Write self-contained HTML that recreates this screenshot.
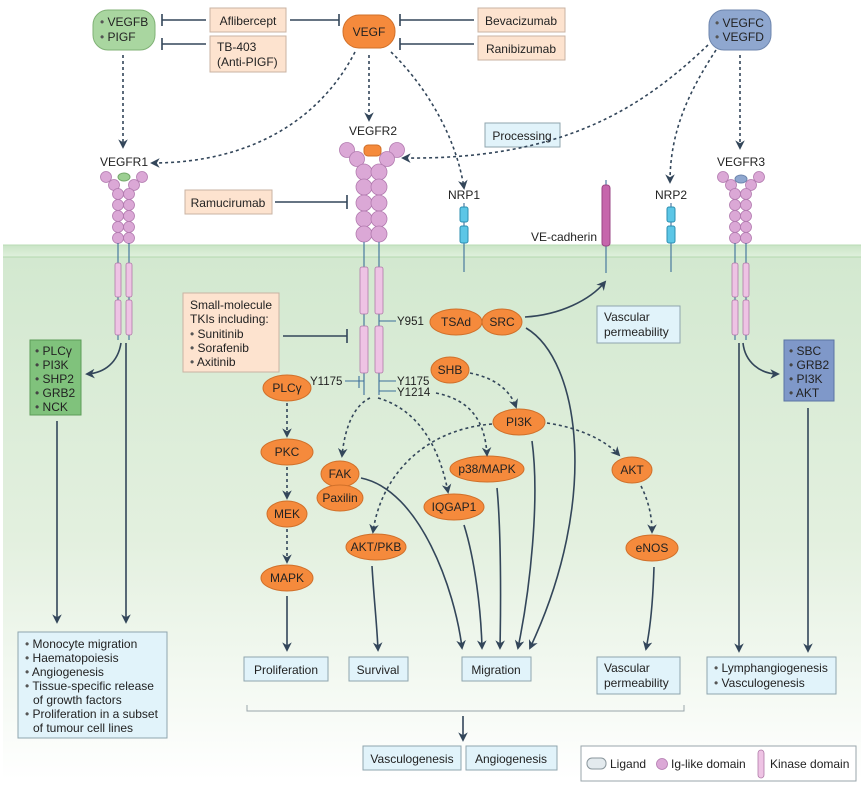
<!DOCTYPE html>
<html><head><meta charset="utf-8"><style>
html,body{margin:0;padding:0;background:#fff}
svg{display:block}
text{font-family:"Liberation Sans",sans-serif;font-size:12px;fill:#222}
.y{font-size:11.5px}
.b{fill:#fde3cf;stroke:#c9b3a3;stroke-width:1}
.lb{fill:#e1f3fa;stroke:#8fa5ae;stroke-width:1}
.o{fill:#f58a3c;stroke:#d0702a;stroke-width:1}
.ig{fill:#dba8d6;stroke:#b27aaf;stroke-width:0.8}
.k{fill:#eec3e4;stroke:#b07aa8;stroke-width:0.8}
.ln{stroke:#33465a;stroke-width:1.6;fill:none}
.d{stroke:#33465a;stroke-width:1.6;fill:none;stroke-dasharray:3 3}
.tm{stroke:#3c6f9a;stroke-width:1.1;fill:none}
</style></head><body>
<svg width="864" height="785" viewBox="0 0 864 785" xmlns="http://www.w3.org/2000/svg">
<defs>
<marker id="a" viewBox="0 0 10 10" refX="8" refY="5" markerWidth="6" markerHeight="6" orient="auto"><path d="M0,0 L10,5 L0,10 L3,5z" fill="#33465a"/></marker>
<linearGradient id="g" x1="0" y1="0" x2="0" y2="1"><stop offset="0" stop-color="#d2e8cf"/><stop offset="0.55" stop-color="#e3f0df"/><stop offset="1" stop-color="#ffffff"/></linearGradient>
<linearGradient id="m" x1="0" y1="0" x2="0" y2="1"><stop offset="0" stop-color="#c9e4c6"/><stop offset="1" stop-color="#e0f0dd"/></linearGradient>
</defs>
<rect x="3" y="245" width="858" height="535" fill="url(#g)"/>
<rect x="3" y="245" width="858" height="12" fill="url(#m)"/>
<line x1="3" y1="257" x2="861" y2="257" stroke="#b3d8ae" stroke-width="1"/>
<line x1="3" y1="245" x2="861" y2="245" stroke="#b9dcb4" stroke-width="1"/>

<rect x="93" y="10" width="62" height="40" rx="15" fill="#a9d6a0" stroke="#80b276"/>
<text x="100" y="26"><tspan fill="#555">•</tspan> VEGFB</text>
<text x="100" y="41"><tspan fill="#555">•</tspan> PIGF</text>
<rect x="343" y="15" width="52" height="33" rx="16" class="o"/>
<text x="369" y="36" text-anchor="middle">VEGF</text>
<rect x="709" y="10" width="62" height="40" rx="15" fill="#8fa7cf" stroke="#6e86ae"/>
<text x="715" y="27"><tspan fill="#555">•</tspan> VEGFC</text>
<text x="715" y="41"><tspan fill="#555">•</tspan> VEGFD</text>

<rect x="210" y="8" width="76" height="24" class="b"/><text x="248" y="25" text-anchor="middle">Aflibercept</text>
<rect x="210" y="36" width="76" height="36" class="b"/><text x="217" y="51">TB-403</text><text x="217" y="66">(Anti-PIGF)</text>
<rect x="478" y="8" width="87" height="24" class="b"/><text x="521" y="25" text-anchor="middle">Bevacizumab</text>
<rect x="478" y="36" width="87" height="24" class="b"/><text x="521" y="53" text-anchor="middle">Ranibizumab</text>
<path class="ln" d="M206,20H162M162,14V26M206,44H162M162,38V50M290,20H339M339,14V26M474,20H400M400,14V26M474,44H400M400,38V50"/>
<rect x="185" y="190" width="87" height="24" class="b"/><text x="228" y="207" text-anchor="middle">Ramucirumab</text>
<path class="ln" d="M275,202H347M347,195V209"/>
<rect x="183" y="293" width="96" height="79" class="b"/>
<text x="190" y="309">Small-molecule</text><text x="190" y="323">TKIs including:</text>
<text x="190" y="338"><tspan fill="#555">•</tspan> Sunitinib</text><text x="190" y="352"><tspan fill="#555">•</tspan> Sorafenib</text><text x="190" y="366"><tspan fill="#555">•</tspan> Axitinib</text>
<path class="ln" d="M283,336H347M347,329V343"/>
<rect x="485" y="123" width="75" height="24" class="lb"/><text x="522" y="140" text-anchor="middle">Processing</text>

<path class="d" marker-end="url(#a)" d="M123,55V147"/>
<path class="d" marker-end="url(#a)" d="M355,52C320,120 250,163 152,163"/>
<path class="d" marker-end="url(#a)" d="M369,55V120"/>
<path class="d" marker-end="url(#a)" d="M391,52C420,80 455,130 464,188"/>
<path class="d" marker-end="url(#a)" d="M708,45C640,110 560,160 403,158"/>
<path class="d" marker-end="url(#a)" d="M716,50C690,90 670,130 670,182"/>
<path class="d" marker-end="url(#a)" d="M740,55V148"/>

<text x="124" y="166" text-anchor="middle">VEGFR1</text>
<g class="ig"><circle cx="106" cy="177" r="5.5"/><circle cx="142" cy="177" r="5.5"/><circle cx="114" cy="185" r="5.5"/><circle cx="134" cy="185" r="5.5"/>
<circle cx="118" cy="194" r="5.5"/><circle cx="129" cy="194" r="5.5"/><circle cx="118" cy="205" r="5.5"/><circle cx="129" cy="205" r="5.5"/><circle cx="118" cy="216" r="5.5"/><circle cx="129" cy="216" r="5.5"/><circle cx="118" cy="227" r="5.5"/><circle cx="129" cy="227" r="5.5"/><circle cx="118" cy="238" r="5.5"/><circle cx="129" cy="238" r="5.5"/></g>
<ellipse cx="124" cy="177" rx="6" ry="4" fill="#9ccf92" stroke="#74a86a"/>
<path class="tm" d="M118,243V340M129,243V340"/>
<g class="k"><rect x="115" y="263" width="6" height="34" rx="2"/><rect x="126" y="263" width="6" height="34" rx="2"/><rect x="115" y="300" width="6" height="35" rx="2"/><rect x="126" y="300" width="6" height="35" rx="2"/></g>

<text x="373" y="135" text-anchor="middle">VEGFR2</text>
<g class="ig"><circle cx="347" cy="150" r="7.5"/><circle cx="397" cy="150" r="7.5"/><circle cx="357" cy="159" r="7.5"/><circle cx="387" cy="159" r="7.5"/>
<circle cx="364" cy="172" r="8"/><circle cx="379" cy="172" r="8"/><circle cx="364" cy="187" r="8"/><circle cx="379" cy="187" r="8"/><circle cx="364" cy="203" r="8"/><circle cx="379" cy="203" r="8"/><circle cx="364" cy="219" r="8"/><circle cx="379" cy="219" r="8"/><circle cx="364" cy="234" r="8"/><circle cx="379" cy="234" r="8"/></g>
<rect x="364" y="145" width="17" height="11" rx="4" fill="#f58a3c" stroke="#d0702a"/>
<path class="tm" d="M364,242V395M379,242V395M379,321H396M345,381H364M359,376V388M379,381H396M379,391H396"/>
<g class="k"><rect x="360" y="267" width="8" height="47" rx="2"/><rect x="375" y="267" width="8" height="47" rx="2"/><rect x="360" y="326" width="8" height="47" rx="2"/><rect x="375" y="326" width="8" height="47" rx="2"/></g>
<text class="y" x="397" y="325">Y951</text>
<text class="y" x="310" y="385">Y1175</text>
<text class="y" x="397" y="385">Y1175</text>
<text class="y" x="397" y="396">Y1214</text>

<text x="464" y="199" text-anchor="middle">NRP1</text>
<path class="tm" d="M464,203V272M671,203V272M606,180V273"/>
<g fill="#5cc6e6" stroke="#2c8fb0"><rect x="460" y="207" width="8" height="15" rx="2"/><rect x="460" y="226" width="8" height="17" rx="2"/><rect x="667" y="207" width="8" height="15" rx="2"/><rect x="667" y="226" width="8" height="17" rx="2"/></g>
<text x="671" y="199" text-anchor="middle">NRP2</text>
<rect x="602" y="185" width="8" height="61" rx="3" fill="#c666ac" stroke="#9a4684"/>
<text x="597" y="241" text-anchor="end">VE-cadherin</text>

<text x="741" y="166" text-anchor="middle">VEGFR3</text>
<g class="ig"><circle cx="723" cy="177" r="5.5"/><circle cx="759" cy="177" r="5.5"/><circle cx="731" cy="185" r="5.5"/><circle cx="751" cy="185" r="5.5"/>
<circle cx="735" cy="194" r="5.5"/><circle cx="746" cy="194" r="5.5"/><circle cx="735" cy="205" r="5.5"/><circle cx="746" cy="205" r="5.5"/><circle cx="735" cy="216" r="5.5"/><circle cx="746" cy="216" r="5.5"/><circle cx="735" cy="227" r="5.5"/><circle cx="746" cy="227" r="5.5"/><circle cx="735" cy="238" r="5.5"/><circle cx="746" cy="238" r="5.5"/></g>
<ellipse cx="741" cy="179" rx="6" ry="4" fill="#8fa7cf" stroke="#6e86ae"/>
<path class="tm" d="M735,243V340M746,243V340"/>
<g class="k"><rect x="732" y="263" width="6" height="34" rx="2"/><rect x="743" y="263" width="6" height="34" rx="2"/><rect x="732" y="300" width="6" height="35" rx="2"/><rect x="743" y="300" width="6" height="35" rx="2"/></g>

<rect x="30" y="340" width="51" height="75" fill="#80c27c" stroke="#5c9c58"/>
<text x="35" y="355"><tspan fill="#444">•</tspan> PLCγ</text><text x="35" y="369"><tspan fill="#444">•</tspan> PI3K</text><text x="35" y="383"><tspan fill="#444">•</tspan> SHP2</text><text x="35" y="397"><tspan fill="#444">•</tspan> GRB2</text><text x="35" y="411"><tspan fill="#444">•</tspan> NCK</text>
<rect x="784" y="340" width="50" height="61" fill="#7f98c9" stroke="#5b74a3"/>
<text x="789" y="355"><tspan fill="#444">•</tspan> SBC</text><text x="789" y="369"><tspan fill="#444">•</tspan> GRB2</text><text x="789" y="383"><tspan fill="#444">•</tspan> PI3K</text><text x="789" y="397"><tspan fill="#444">•</tspan> AKT</text>
<rect x="597" y="306" width="83" height="37" class="lb"/><text x="604" y="321">Vascular</text><text x="604" y="336">permeability</text>

<path class="ln" marker-end="url(#a)" d="M121,343C118,362 105,373 87,374"/>
<path class="ln" marker-end="url(#a)" d="M126,343V622"/>
<path class="ln" marker-end="url(#a)" d="M57,421V622"/>
<path class="ln" marker-end="url(#a)" d="M743,343C745,362 760,374 778,374"/>
<path class="ln" marker-end="url(#a)" d="M739,343V651"/>
<path class="ln" marker-end="url(#a)" d="M808,408V651"/>
<path class="ln" marker-end="url(#a)" d="M525,317C560,315 590,300 605,282"/>
<path class="ln" marker-end="url(#a)" d="M526,328C580,360 600,500 530,648"/>

<ellipse cx="456" cy="322" rx="26" ry="13" class="o"/><text x="456" y="326" text-anchor="middle">TSAd</text>
<ellipse cx="502" cy="322" rx="20" ry="13" class="o"/><text x="502" y="326" text-anchor="middle">SRC</text>
<ellipse cx="287" cy="388" rx="24" ry="13" class="o"/><text x="287" y="392" text-anchor="middle">PLCγ</text>
<ellipse cx="450" cy="370" rx="19" ry="13" class="o"/><text x="450" y="374" text-anchor="middle">SHB</text>
<ellipse cx="519" cy="422" rx="26" ry="13" class="o"/><text x="519" y="426" text-anchor="middle">PI3K</text>
<ellipse cx="287" cy="452" rx="26" ry="13" class="o"/><text x="287" y="456" text-anchor="middle">PKC</text>
<ellipse cx="287" cy="514" rx="20" ry="13" class="o"/><text x="287" y="518" text-anchor="middle">MEK</text>
<ellipse cx="287" cy="578" rx="26" ry="13" class="o"/><text x="287" y="582" text-anchor="middle">MAPK</text>
<ellipse cx="340" cy="474" rx="19" ry="13" class="o"/><text x="340" y="478" text-anchor="middle">FAK</text>
<ellipse cx="340" cy="498" rx="23" ry="13" class="o"/><text x="340" y="502" text-anchor="middle">Paxilin</text>
<ellipse cx="487" cy="469" rx="37" ry="13" class="o"/><text x="487" y="473" text-anchor="middle">p38/MAPK</text>
<ellipse cx="454" cy="507" rx="30" ry="13" class="o"/><text x="454" y="511" text-anchor="middle">IQGAP1</text>
<ellipse cx="376" cy="547" rx="30" ry="13" class="o"/><text x="376" y="551" text-anchor="middle">AKT/PKB</text>
<ellipse cx="632" cy="470" rx="20" ry="13" class="o"/><text x="632" y="474" text-anchor="middle">AKT</text>
<ellipse cx="652" cy="548" rx="26" ry="13" class="o"/><text x="652" y="552" text-anchor="middle">eNOS</text>

<path class="d" marker-end="url(#a)" d="M287,403V436"/>
<path class="d" marker-end="url(#a)" d="M287,467V498"/>
<path class="d" marker-end="url(#a)" d="M287,529V562"/>
<path class="d" marker-end="url(#a)" d="M370,398C355,405 345,425 342,456"/>
<path class="d" marker-end="url(#a)" d="M378,398C420,410 440,450 448,492"/>
<path class="d" marker-end="url(#a)" d="M436,393C470,400 485,420 487,455"/>
<path class="d" marker-end="url(#a)" d="M470,373C495,378 510,390 516,407"/>
<path class="d" marker-end="url(#a)" d="M492,424C420,430 380,480 373,532"/>
<path class="d" marker-end="url(#a)" d="M547,423C580,428 605,440 619,455"/>
<path class="d" marker-end="url(#a)" d="M641,486C648,500 652,515 652,532"/>

<path class="ln" marker-end="url(#a)" d="M287,596V650"/>
<path class="ln" marker-end="url(#a)" d="M372,566C374,600 377,625 378,650"/>
<path class="ln" marker-end="url(#a)" d="M361,478C420,490 455,590 462,648"/>
<path class="ln" marker-end="url(#a)" d="M464,525C475,560 481,610 482,648"/>
<path class="ln" marker-end="url(#a)" d="M497,488C501,530 501,600 500,648"/>
<path class="ln" marker-end="url(#a)" d="M532,441C540,500 530,590 518,648"/>
<path class="ln" marker-end="url(#a)" d="M654,567C653,600 650,630 646,649"/>

<rect x="18" y="632" width="149" height="106" class="lb"/>
<text x="25" y="648"><tspan fill="#555">•</tspan> Monocyte migration</text>
<text x="25" y="662"><tspan fill="#555">•</tspan> Haematopoiesis</text>
<text x="25" y="676"><tspan fill="#555">•</tspan> Angiogenesis</text>
<text x="25" y="690"><tspan fill="#555">•</tspan> Tissue-specific release</text>
<text x="33" y="704">of growth factors</text>
<text x="25" y="718"><tspan fill="#555">•</tspan> Proliferation in a subset</text>
<text x="33" y="732">of tumour cell lines</text>
<rect x="244" y="657" width="84" height="24" class="lb"/><text x="286" y="674" text-anchor="middle">Proliferation</text>
<rect x="349" y="657" width="59" height="24" class="lb"/><text x="378" y="674" text-anchor="middle">Survival</text>
<rect x="462" y="657" width="69" height="24" class="lb"/><text x="496" y="674" text-anchor="middle">Migration</text>
<rect x="597" y="657" width="83" height="37" class="lb"/><text x="604" y="672">Vascular</text><text x="604" y="687">permeability</text>
<rect x="707" y="657" width="129" height="37" class="lb"/><text x="714" y="672"><tspan fill="#555">•</tspan> Lymphangiogenesis</text><text x="714" y="687"><tspan fill="#555">•</tspan> Vasculogenesis</text>
<path d="M247,705V711H684V705" stroke="#9aa5ab" stroke-width="1" fill="none"/>
<path class="ln" marker-end="url(#a)" d="M463,716V740"/>
<rect x="363" y="746" width="98" height="24" class="lb"/><text x="412" y="763" text-anchor="middle">Vasculogenesis</text>
<rect x="466" y="746" width="91" height="24" class="lb"/><text x="511" y="763" text-anchor="middle">Angiogenesis</text>

<rect x="581" y="746" width="275" height="35" fill="#fff" stroke="#9aa5ab"/>
<rect x="587" y="758" width="19" height="11" rx="5" fill="#e3eaee" stroke="#8a969c"/>
<text x="610" y="768">Ligand</text>
<circle cx="662" cy="764" r="5.5" class="ig"/>
<text x="671" y="768">Ig-like domain</text>
<rect x="758" y="750" width="6" height="28" rx="3" class="k"/>
<text x="770" y="768">Kinase domain</text>
</svg>
</body></html>
